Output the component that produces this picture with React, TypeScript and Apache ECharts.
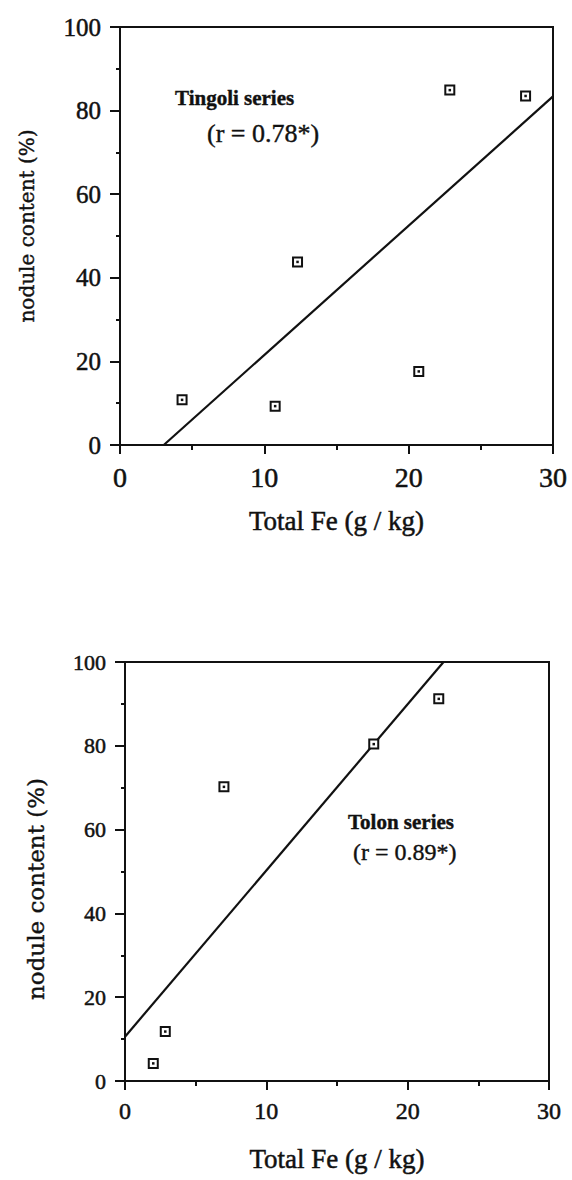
import React, { useEffect, useRef } from "react";
import * as echarts from "echarts";

// Total Fe (g/kg) against nodule content (%) for two soil series
const tingoliFe = [4.3, 10.75, 12.3, 20.7, 22.85, 28.1];
const tingoliNodule = [10.8, 9.3, 43.8, 17.6, 84.9, 83.5];
const tolonFe = [2.0, 2.85, 7.0, 17.6, 22.2];
const tolonNodule = [4.2, 11.8, 70.2, 80.4, 91.2];

const tingoliLabel = "Tingoli series";
const tingoliR = "(r = 0.78*)";
const tolonLabel = "Tolon series";
const tolonR = "(r = 0.89*)";

const xName = "Total Fe (g / kg)";
const yName = "nodule content (%)";
const X_MIN = 0;
const X_MAX = 30;
const Y_MIN = 0;
const Y_MAX = 100;

const INK = "#111";
const SERIF = "Liberation Serif";
const WIDE_SERIF = "DejaVu Serif";

// least-squares line, clipped to the plotting window
function fitLine(xs: number[], ys: number[]): number[][] {
  const n = xs.length;
  const mx = xs.reduce((a, b) => a + b, 0) / n;
  const my = ys.reduce((a, b) => a + b, 0) / n;
  let sxy = 0;
  let sxx = 0;
  for (let i = 0; i < n; i++) {
    sxy += (xs[i] - mx) * (ys[i] - my);
    sxx += (xs[i] - mx) * (xs[i] - mx);
  }
  const slope = sxy / sxx;
  const icpt = my - slope * mx;
  const x0 = Math.max(X_MIN, (Y_MIN - icpt) / slope);
  const x1 = Math.min(X_MAX, (Y_MAX - icpt) / slope);
  return [
    [x0, icpt + slope * x0],
    [x1, icpt + slope * x1],
  ];
}

function pairs(xs: number[], ys: number[]): number[][] {
  return xs.map((x, i) => [x, ys[i]]);
}

// slight outline so the type reads as heavy as printed text
const heavy = { textBorderColor: INK, textBorderWidth: 0.5 };

function xAxisFor(gridIndex: number, labelSize: number, nameGap: number) {
  return {
    type: "value",
    gridIndex,
    min: X_MIN,
    max: X_MAX,
    interval: 10,
    name: xName,
    nameLocation: "middle",
    nameGap,
    nameTextStyle: { fontFamily: SERIF, fontSize: 27, color: INK, ...heavy },
    axisLine: { show: true, lineStyle: { color: INK, width: 2 } },
    axisTick: { show: true, length: 9, lineStyle: { color: INK, width: 2 } },
    minorTick: { show: true, splitNumber: 2, length: 5, lineStyle: { color: INK, width: 2 } },
    splitLine: { show: false },
    axisLabel: { fontFamily: SERIF, fontSize: labelSize, color: INK, margin: 18, ...heavy },
  };
}

function yAxisFor(gridIndex: number, labelSize: number) {
  return {
    type: "value",
    gridIndex,
    min: Y_MIN,
    max: Y_MAX,
    interval: 20,
    axisLine: { show: true, lineStyle: { color: INK, width: 2 } },
    axisTick: { show: true, length: 10, lineStyle: { color: INK, width: 2 } },
    minorTick: { show: true, splitNumber: 2, length: 4, lineStyle: { color: INK, width: 2 } },
    splitLine: { show: false },
    axisLabel: { fontFamily: SERIF, fontSize: labelSize, color: INK, margin: 19, ...heavy },
  };
}

function pointSeries(idx: number, xs: number[], ys: number[]) {
  const data = pairs(xs, ys);
  return [
    {
      type: "scatter",
      xAxisIndex: idx,
      yAxisIndex: idx,
      data,
      symbol: "rect",
      symbolSize: 9,
      itemStyle: { color: "#fff", borderColor: INK, borderWidth: 2, opacity: 1 },
      z: 3,
    },
    {
      type: "scatter",
      xAxisIndex: idx,
      yAxisIndex: idx,
      data,
      symbol: "rect",
      symbolSize: 2.5,
      itemStyle: { color: INK, opacity: 1 },
      z: 4,
    },
  ];
}

function fitSeries(idx: number, xs: number[], ys: number[]) {
  return {
    type: "line",
    xAxisIndex: idx,
    yAxisIndex: idx,
    data: fitLine(xs, ys),
    showSymbol: false,
    symbol: "none",
    lineStyle: { color: INK, width: 2.2 },
    z: 2,
  };
}

function textEl(text: string, x: number, y: number, size: number, bold = false, rotation = 0, family = SERIF) {
  return {
    type: "text",
    x,
    y,
    rotation,
    style: {
      text,
      fill: INK,
      fontFamily: family,
      fontSize: size,
      fontWeight: bold ? "bold" : "normal",
      align: rotation ? "center" : "left",
      verticalAlign: "middle",
      stroke: INK,
      lineWidth: 0.4,
    },
  };
}

export default function App() {
  const ref = useRef<HTMLDivElement>(null);

  useEffect(() => {
    if (!ref.current) return;
    const chart = echarts.init(ref.current, null, { renderer: "svg" });
    chart.setOption({
      animation: false,
      backgroundColor: "#fff",
      grid: [
        { left: 120, top: 27, width: 433, height: 418, show: true, borderColor: INK, borderWidth: 2, backgroundColor: "transparent" },
        { left: 125, top: 662, width: 424, height: 419, show: true, borderColor: INK, borderWidth: 2, backgroundColor: "transparent" },
      ],
      xAxis: [xAxisFor(0, 28, 62), xAxisFor(1, 24, 64)],
      yAxis: [yAxisFor(0, 25), yAxisFor(1, 22)],
      series: [
        fitSeries(0, tingoliFe, tingoliNodule),
        ...pointSeries(0, tingoliFe, tingoliNodule),
        fitSeries(1, tolonFe, tolonNodule),
        ...pointSeries(1, tolonFe, tolonNodule),
      ],
      graphic: [
        textEl(yName, 27, 226, 20, false, Math.PI / 2, WIDE_SERIF),
        textEl(yName, 36, 889, 23, false, Math.PI / 2, WIDE_SERIF),
        textEl(tingoliLabel, 175, 98, 21, true),
        textEl(tingoliR, 207, 133, 26),
        textEl(tolonLabel, 348, 822, 21, true),
        textEl(tolonR, 353, 852, 24),
      ],
    });
    return () => chart.dispose();
  }, []);

  return (
    <div
      ref={ref}
      style={{ position: "absolute", left: 0, top: 0, width: 572, height: 1180, background: "#fff" }}
    />
  );
}
